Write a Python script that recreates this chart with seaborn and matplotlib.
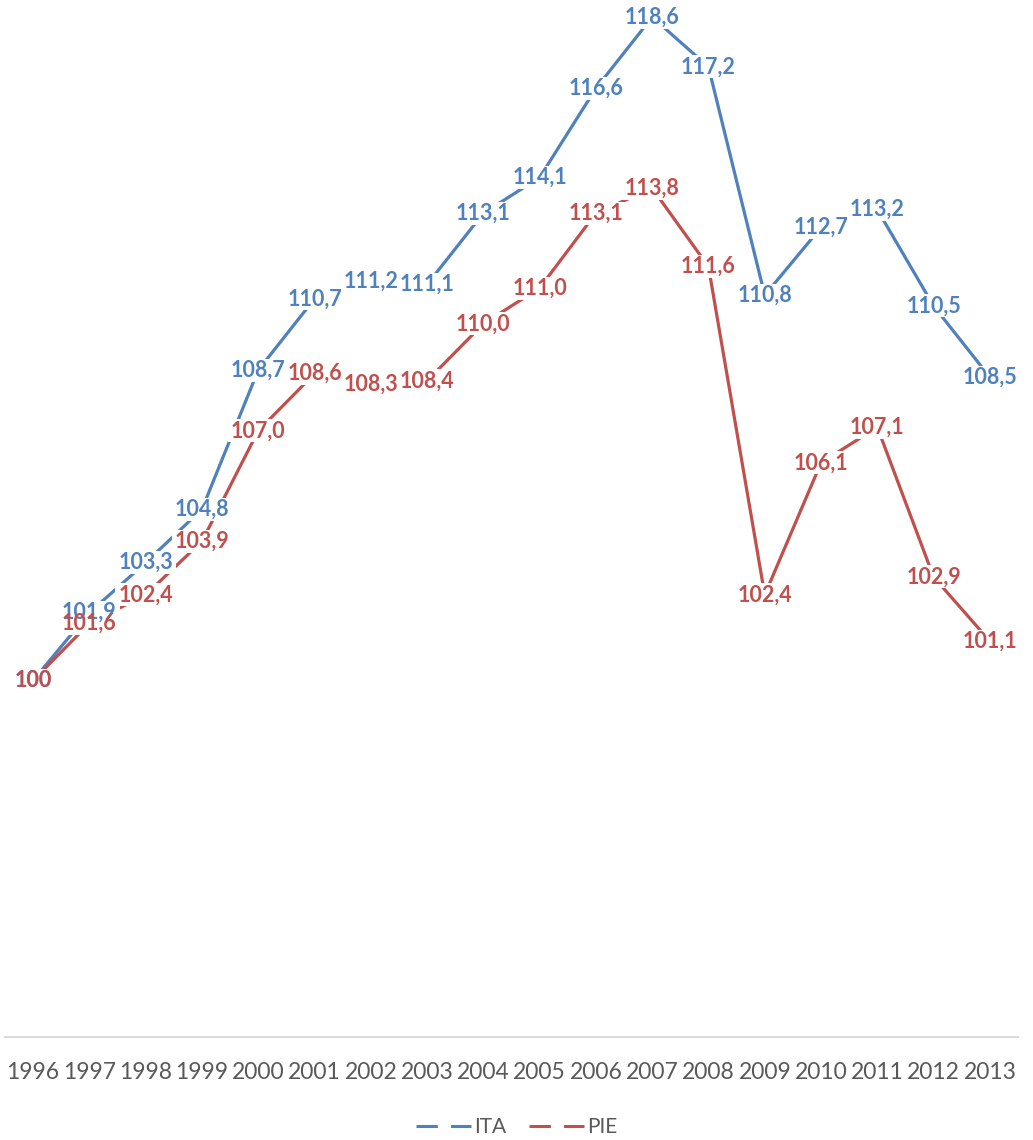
import matplotlib
matplotlib.use("Agg")
import matplotlib.pyplot as plt
from matplotlib.lines import Line2D
from matplotlib.patches import Rectangle
import pandas as pd
import seaborn as sns

years = [str(y) for y in range(1996, 2014)]
ita = [100, 101.9, 103.3, 104.8, 108.7, 110.7, 111.2, 111.1, 113.1, 114.1,
       116.6, 118.6, 117.2, 110.8, 112.7, 113.2, 110.5, 108.5]
pie = [100, 101.6, 102.4, 103.9, 107.0, 108.6, 108.3, 108.4, 110.0, 111.0,
       113.1, 113.8, 111.6, 102.4, 106.1, 107.1, 102.9, 101.1]
series_names = ["ITA", "PIE"]
colors = {"ITA": "#4F81BD", "PIE": "#C0504D"}

df = pd.DataFrame({
    "anno": years * 2,
    "pos": list(range(len(years))) * 2,
    "valore": ita + pie,
    "serie": ["ITA"] * len(years) + ["PIE"] * len(years),
})

sns.set_theme(style="white")
plt.rcParams["font.family"] = ["Lato", "DejaVu Sans"]

fig = plt.figure(figsize=(10.33, 11.4), dpi=100)
ax = fig.add_axes([5 / 1033, 103 / 1140, 1013 / 1033, 1 - 103 / 1140])

sns.lineplot(data=df, x="pos", y="valore", hue="serie", palette=colors,
             linewidth=2.3, ax=ax, legend=False, zorder=2)
for line in ax.lines:
    line.set_solid_capstyle("butt")

ax.set_xlim(-0.5, len(years) - 0.5)
ax.set_ylim(90, 100 + 683 / 35.8)


def fmt(v, i):
    return f"{v:.0f}" if i == 0 else f"{v:.1f}".replace(".", ",")


labels = []
for name, vals in (("ITA", ita), ("PIE", pie)):
    for i, v in enumerate(vals):
        labels.append(ax.text(i, v, fmt(v, i), ha="center", va="center",
                              fontsize=15.5, fontweight="bold",
                              color=colors[name], clip_on=False,
                              zorder=5 if name == "PIE" else 4))

# white patches behind the labels cut the lines without hiding other labels
fig.canvas.draw()
renderer = fig.canvas.get_renderer()
inv = ax.transData.inverted()
pad = 3
for t in labels:
    bb = t.get_window_extent(renderer)
    (x0, y0), (x1, y1) = inv.transform([(bb.x0 - pad, bb.y0 - 1),
                                        (bb.x1 + pad, bb.y1 + 1)])
    ax.add_patch(Rectangle((x0, y0), x1 - x0, y1 - y0, fc="white",
                           ec="none", zorder=3, clip_on=False))

ax.set_xticks(range(len(years)))
ax.set_xticklabels(years, fontsize=16.5, color="#595959")
ax.set_yticks([])
ax.set_xlabel("")
ax.set_ylabel("")
ax.tick_params(axis="x", length=0, pad=18)
for side in ("top", "left", "right"):
    ax.spines[side].set_visible(False)
ax.spines["bottom"].set_color("#D9D9D9")
ax.spines["bottom"].set_linewidth(1.4)

handles = [Line2D([0], [0], color=colors[n], lw=2.2, dashes=(7.0, 4.3),
                  dash_capstyle="butt") for n in series_names]
fig.legend(handles, series_names, loc="center", bbox_to_anchor=(0.5, 13 / 1140),
           ncol=2, frameon=False, fontsize=15, labelcolor="#595959",
           handlelength=2.65, handletextpad=0.15, columnspacing=1.1)

fig.savefig("out.png", dpi=100)
